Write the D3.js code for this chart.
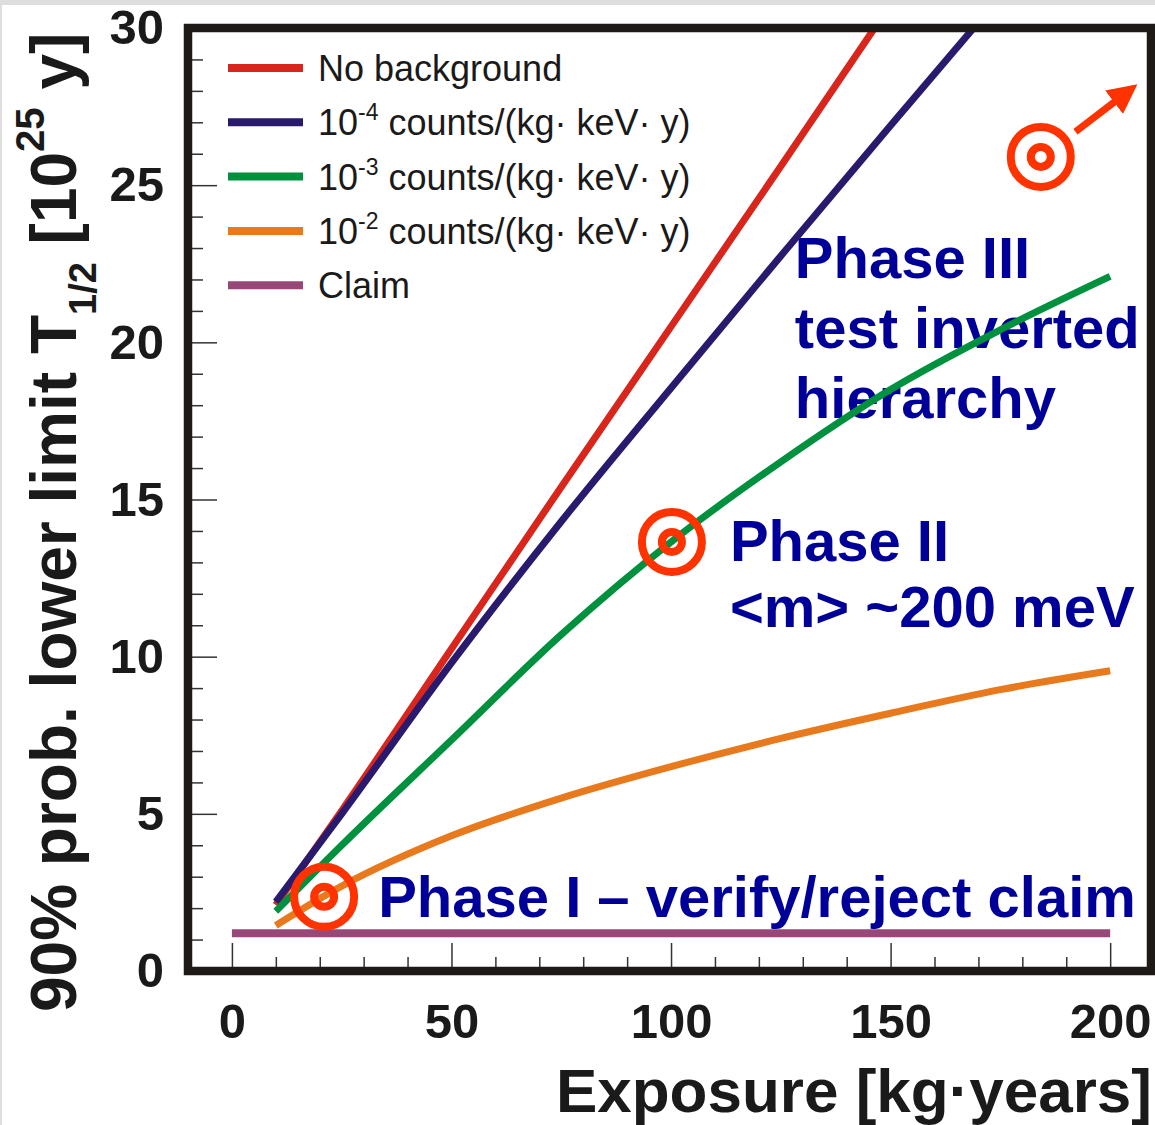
<!DOCTYPE html>
<html>
<head>
<meta charset="utf-8">
<script src="https://cdnjs.cloudflare.com/ajax/libs/d3/7.8.5/d3.min.js"></script>
<style>
  body { margin: 0; background: #fff; }
  text { font-family: "Liberation Sans", Arial, Helvetica, sans-serif; }
</style>
</head>
<body>
<div id="chart"></div>
<script>
// values
var exposure = [10, 25, 50, 75, 100, 125, 150, 175, 200];
var noBackground = [2.1, 5.1, 10.25, 15.4, 20.5, 25.6, 30.75, null, null];
var bg1e4 = [2.2, 5.0, 9.8, 14.3, 18.55, 22.75, 26.9, 31.0, null];
var bg1e3 = [1.9, 4.0, 7.35, 10.7, 13.65, 16.2, 18.5, 20.4, 22.1];
var bg1e2 = [1.45, 2.7, 4.3, 5.5, 6.5, 7.4, 8.2, 8.95, 9.55];
var claimX = [0, 200];
var claimY = [1.2, 1.2];

var xTicks = [0, 50, 100, 150, 200];
var yTicks = [0, 5, 10, 15, 20, 25, 30];

var seriesNames = ["No background", "10|-4| counts/(kg· keV· y)", "10|-3| counts/(kg· keV· y)", "10|-2| counts/(kg· keV· y)", "Claim"];
var seriesColors = ["#d9261c", "#2a1a6e", "#00913f", "#e8791c", "#974878"];

var targetX = [21, 100.2, 184.2];
var targetY = [2.36, 13.65, 25.9];
var arrowX = [192.1, 205.6];
var arrowY = [26.7, 28.15];

(function() {
    var width = 1155,
        height = 1125;

    var svg = d3.select("#chart")
        .append("svg")
        .attr("width", width)
        .attr("height", height)

    // thin grey strip along top/left edge of the scan
    svg.append("rect").attr("x", 0).attr("y", 0).attr("width", width).attr("height", 5).attr("fill", "#dedede")
    svg.append("rect").attr("x", 0).attr("y", 0).attr("width", 2).attr("height", height).attr("fill", "#dedede")

    var x = d3.scaleLinear().domain([-10, 209.3]).range([188, 1151])
    var y = d3.scaleLinear().domain([0, 30]).range([971, 28])

    svg.append("clipPath").attr("id", "plot")
        .append("rect")
        .attr("x", x(-10)).attr("y", y(30))
        .attr("width", x(209.3) - x(-10)).attr("height", y(0) - y(30))

    // minor ticks
    svg.append("g")
        .attr("transform", "translate(" + x(-10) + ",0)")
        .call(d3.axisLeft(y).tickValues(d3.range(1, 30).filter(function(v) { return v % 5 != 0 }))
            .tickSizeInner(-15).tickSizeOuter(0).tickFormat(""))
        .call(function(g) { g.select(".domain").remove() })
        .selectAll("line").attr("stroke", "#333").attr("stroke-width", 1.5)

    svg.append("g")
        .attr("transform", "translate(0," + y(0) + ")")
        .call(d3.axisBottom(x).tickValues(d3.range(10, 200, 10).filter(function(v) { return v % 50 != 0 }))
            .tickSizeInner(-14).tickSizeOuter(0).tickFormat(""))
        .call(function(g) { g.select(".domain").remove() })
        .selectAll("line").attr("stroke", "#333").attr("stroke-width", 1.5)

    // major ticks + labels
    var yAxis = svg.append("g")
        .attr("transform", "translate(" + x(-10) + ",0)")
        .call(d3.axisLeft(y).tickValues(yTicks).tickSizeInner(-29).tickSizeOuter(0).tickPadding(24))
    yAxis.select(".domain").remove()
    yAxis.selectAll("line").attr("stroke", "#333").attr("stroke-width", 1.5)
    yAxis.selectAll("text")
        .attr("font-size", 49).attr("font-weight", "bold").attr("fill", "#1a1a1a")
        .attr("font-family", "Liberation Sans, Arial, sans-serif")

    var xAxis = svg.append("g")
        .attr("transform", "translate(0," + y(0) + ")")
        .call(d3.axisBottom(x).tickValues(xTicks).tickSizeInner(-28).tickSizeOuter(0).tickPadding(32))
    xAxis.select(".domain").remove()
    xAxis.selectAll("line").attr("stroke", "#333").attr("stroke-width", 1.5)
    xAxis.selectAll("text")
        .attr("font-size", 49).attr("font-weight", "bold").attr("fill", "#1a1a1a")
        .attr("font-family", "Liberation Sans, Arial, sans-serif")

    // annotations
    var blue = "#000099"
    var notes = [
        { x: 128.2, y: 22.05, lines: ["Phase III", "test inverted", "hierarchy"], lh: 70 },
        { x: 113.4, y: 13.05, lines: ["Phase II", "<m> ~200 meV"], lh: 66 },
        { x: 33.3, y: 1.72, lines: ["Phase I – verify/reject claim"], lh: 0 }
    ]
    notes.forEach(function(n) {
        n.lines.forEach(function(l, i) {
            svg.append("text")
                .attr("x", x(n.x))
                .attr("y", y(n.y) + i * n.lh)
                .attr("font-size", 58)
                .attr("font-weight", "bold")
                .attr("fill", blue)
                .text(l)
        })
    })

    // curves
    var line = d3.line()
        .defined(function(d) { return d[1] != null })
        .x(function(d) { return x(d[0]) })
        .y(function(d) { return y(d[1]) })
        .curve(d3.curveMonotoneX)

    var curves = [noBackground, bg1e4, bg1e3, bg1e2]
    var plot = svg.append("g").attr("clip-path", "url(#plot)")

    plot.append("path")
        .datum(d3.zip(claimX, claimY))
        .attr("d", line)
        .attr("fill", "none")
        .attr("stroke", seriesColors[4])
        .attr("stroke-width", 8)

    curves.forEach(function(vals, i) {
        plot.append("path")
            .datum(d3.zip(exposure, vals))
            .attr("d", line)
            .attr("fill", "none")
            .attr("stroke", seriesColors[i])
            .attr("stroke-width", 7)
    })

    // target markers
    var red = "#ff3300"
    targetX.forEach(function(tx, i) {
        svg.append("circle").attr("cx", x(tx)).attr("cy", y(targetY[i])).attr("r", 30)
            .attr("fill", "none").attr("stroke", red).attr("stroke-width", 8)
        svg.append("circle").attr("cx", x(tx)).attr("cy", y(targetY[i])).attr("r", 10)
            .attr("fill", "none").attr("stroke", red).attr("stroke-width", 8)
    })

    svg.append("defs").append("marker")
        .attr("id", "head")
        .attr("viewBox", "0 0 10 10")
        .attr("refX", 2).attr("refY", 5)
        .attr("markerWidth", 4.2).attr("markerHeight", 4.2)
        .attr("markerUnits", "strokeWidth")
        .attr("orient", "auto")
        .append("path").attr("d", "M0,0L10,5L0,10Z").attr("fill", red)

    svg.append("line")
        .attr("x1", x(arrowX[0])).attr("y1", y(arrowY[0]))
        .attr("x2", x(arrowX[1]) - 16).attr("y2", y(arrowY[1]) + 12.5)
        .attr("stroke", red).attr("stroke-width", 7)
        .attr("marker-end", "url(#head)")

    // frame
    svg.append("rect")
        .attr("x", x(-10)).attr("y", y(30))
        .attr("width", x(209.3) - x(-10)).attr("height", y(0) - y(30))
        .attr("fill", "none").attr("stroke", "#1e1a17").attr("stroke-width", 8.5)

    // legend
    var legend = svg.append("g")
    seriesNames.forEach(function(name, i) {
        var ly = 68 + i * 54.3
        legend.append("line")
            .attr("x1", 228).attr("x2", 303).attr("y1", ly).attr("y2", ly)
            .attr("stroke", seriesColors[i]).attr("stroke-width", 8)
        var t = legend.append("text")
            .attr("x", 318).attr("y", ly + 13)
            .attr("font-size", 36).attr("fill", "#1a1a1a")
        var parts = name.split("|")
        if (parts.length == 1) {
            t.text(name)
        } else {
            t.append("tspan").text(parts[0])
            t.append("tspan").attr("font-size", 23).attr("dy", -15).text(parts[1])
            t.append("tspan").attr("dy", 15).text(" " + parts[2].trim())
        }
    })

    // axis titles
    svg.append("text")
        .attr("x", 1152).attr("y", 1112)
        .attr("text-anchor", "end")
        .attr("font-size", 62).attr("font-weight", "bold").attr("fill", "#1a1a1a")
        .text("Exposure [kg·years]")

    var yt = svg.append("text")
        .attr("transform", "translate(76,1012) rotate(-90)")
        .attr("font-size", 64).attr("font-weight", "bold").attr("fill", "#1a1a1a")
    yt.append("tspan").text("90% prob. lower limit T")
    yt.append("tspan").attr("font-size", 38).attr("dy", 20).text("1/2")
    yt.append("tspan").attr("dy", -20).text(" [10")
    yt.append("tspan").attr("font-size", 40).attr("dy", -32).text("25")
    yt.append("tspan").attr("dy", 32).text(" y]")

})();
</script>
</body>
</html>
